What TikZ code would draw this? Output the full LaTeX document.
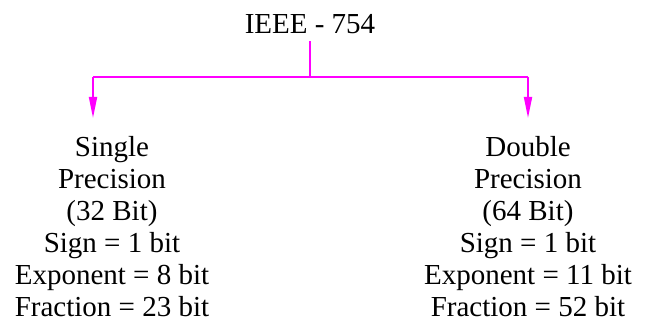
\documentclass[tikz,border=0pt]{standalone}
\usepackage{fontspec}
\setmainfont{Liberation Serif}
\usetikzlibrary{arrows.meta}
\definecolor{branch}{RGB}{255,0,255}
\begin{document}
\begin{tikzpicture}[x=1pt,y=-1pt,
    txt/.style={inner sep=0pt,font=\fontsize{29}{32}\selectfont,align=center},
    link/.style={draw=branch,line width=1.8pt},
    tip/.style={-{Triangle[length=21pt,width=8pt]},shorten >=18pt}]
      \path[use as bounding box] (0,0) rectangle (647,328);
      \node[txt,anchor=base,outer ysep=7pt] at (310,34) (ieee) {IEEE - 754};
      \node[txt,anchor=north] at (112,136) (sp) {Single\\Precision\\(32 Bit)\\Sign = 1 bit\\Exponent = 8 bit\\Fraction = 23 bit};
      \node[txt,anchor=north] at (528,136) (dp) {Double\\Precision\\(64 Bit)\\Sign = 1 bit\\Exponent = 11 bit\\Fraction = 52 bit};
      \coordinate (mid) at (310,77);
      \coordinate (lb) at (93,77);
      \coordinate (rb) at (528,77);
      \path[link] (ieee.south) -- (mid);
      \path[link] (lb) -- (rb);
      \path[link,tip] (lb) -- (lb |- sp.north);
      \path[link,tip] (rb) -- (dp.north);
    \end{tikzpicture}
\end{document}
